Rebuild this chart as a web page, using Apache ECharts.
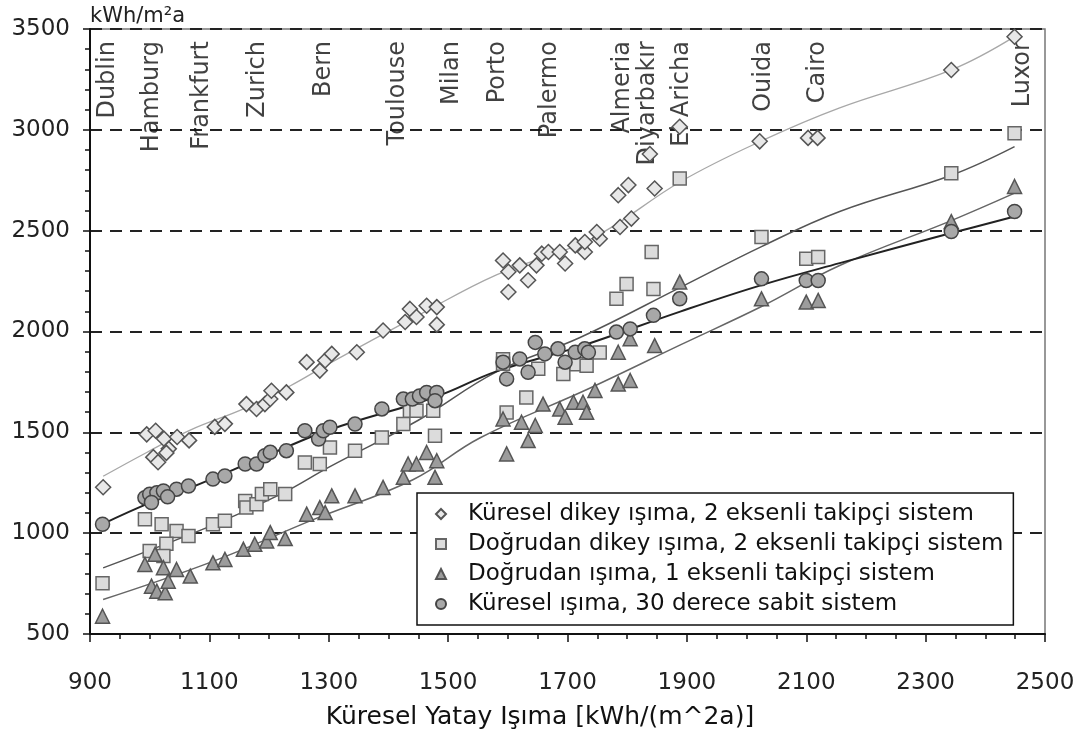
<!DOCTYPE html>
<html>
<head>
<meta charset="utf-8">
<script src="https://cdn.jsdelivr.net/npm/echarts@6/dist/echarts.min.js"></script>
<style>
  html, body { margin: 0; padding: 0; background: #fff; }
  #chart { width: 1090px; height: 735px; }
</style>
</head>
<body>
<div id="chart"></div>
<script>
// x = Küresel yatay ışıma, y = kWh/m²a
var kureselDikey = [
  [922,1228],[995,1490],[1010,1508],[1024,1468],[1046,1477],[1066,1460],[1032,1418],[1028,1398],[1006,1377],[1014,1352],
  [1109,1527],[1126,1542],[1162,1640],[1179,1616],[1193,1640],[1202,1665],[1204,1706],[1229,1698],
  [1263,1848],[1285,1806],[1294,1856],[1305,1889],[1347,1897],[1391,2005],[1428,2047],[1436,2112],[1447,2072],[1464,2128],[1481,2121],[1481,2034],
  [1592,2352],[1601,2296],[1601,2196],[1620,2328],[1634,2254],[1648,2328],[1657,2386],[1668,2394],[1687,2394],[1696,2337],[1713,2427],[1729,2394],
  [1729,2444],[1754,2460],[1749,2493],[1788,2518],[1807,2560],[1785,2676],[1802,2726],[1846,2709],[1838,2880],[1888,3015],
  [2022,2943],[2103,2960],[2119,2960],[2343,3297],[2449,3462]
];
var dogrudanDikey = [
  [921,752],[992,1069],[1020,1044],[1045,1011],[1065,986],[1028,948],[1000,912],[1023,887],[1106,1044],[1126,1061],
  [1160,1160],[1162,1127],[1179,1144],[1188,1194],[1202,1218],[1227,1194],[1260,1351],[1285,1343],[1302,1425],[1344,1409],
  [1389,1475],[1425,1541],[1436,1607],[1447,1607],[1475,1607],[1478,1483],
  [1592,1863],[1592,1840],[1598,1598],[1631,1673],[1651,1815],[1693,1789],[1715,1838],[1732,1830],[1754,1896],
  [1841,2394],[1799,2236],[1782,2162],[1844,2211],[1888,2759],[2025,2469],[2100,2361],[2120,2369],[2343,2785],[2449,2983]
];
var dogrudanTek = [
  [921,588],[992,845],[1003,737],[1012,712],[1026,704],[1009,895],[1023,829],[1031,762],[1045,820],[1068,787],
  [1106,853],[1126,870],[1157,920],[1176,945],[1196,961],[1202,1003],[1227,973],[1263,1094],[1285,1127],[1294,1102],
  [1305,1185],[1344,1185],[1391,1227],[1425,1277],[1433,1343],[1447,1343],[1464,1400],[1481,1359],[1478,1277],
  [1592,1566],[1623,1550],[1646,1534],[1634,1459],[1598,1393],[1659,1640],[1687,1616],[1696,1575],[1710,1649],[1726,1649],[1732,1600],
  [1746,1708],[1785,1740],[1805,1757],[1785,1897],[1805,1964],[1846,1930],[1888,2245],
  [2025,2162],[2100,2146],[2120,2154],[2343,2545],[2449,2719]
];
var kureselSabit = [
  [921,1044],[992,1176],[1000,1193],[1012,1200],[1023,1209],[1045,1218],[1065,1234],[1003,1152],[1030,1180],
  [1106,1268],[1126,1284],[1160,1343],[1179,1343],[1193,1384],[1202,1401],[1229,1409],[1260,1508],[1283,1467],[1291,1508],[1302,1525],
  [1344,1541],[1389,1616],[1425,1665],[1440,1665],[1452,1680],[1464,1698],[1481,1698],[1478,1657],
  [1592,1848],[1598,1765],[1620,1864],[1634,1798],[1646,1946],[1662,1889],[1684,1914],[1696,1848],[1713,1897],[1729,1914],[1735,1897],
  [1782,1997],[1805,2013],[1844,2080],[1888,2162],[2025,2261],[2100,2253],[2120,2253],[2343,2496],[2449,2595]
];

// egilim cizgileri (trend lines)
var trendDikey = [[922,1282],[995,1400],[1067,1510],[1160,1620],[1235,1730],[1302,1843],[1450,2080],[1581,2281],[1740,2460],[1890,2744],[2025,2945],[2156,3109],[2343,3297],[2449,3462]];
var trendDogrudanDikey = [[922,828],[1110,1045],[1218,1191],[1302,1330],[1450,1560],[1581,1800],[1721,1970],[1890,2220],[2025,2421],[2156,2595],[2343,2775],[2449,2917]];
var trendDogrudanTek = [[922,671],[1106,860],[1274,1067],[1441,1265],[1553,1472],[1738,1720],[1890,1935],[2025,2124],[2156,2327],[2343,2550],[2449,2686]];
var trendSabit = [[921,1045],[1000,1150],[1067,1224],[1200,1390],[1302,1513],[1481,1678],[1581,1802],[1721,1926],[1890,2100],[2025,2230],[2156,2339],[2343,2488],[2449,2570]];

var cityNames = ['Dublin','Hamburg','Frankfurt','Zurich','Bern','Toulouse','Milan','Porto','Palermo','Almeria','Diyarbakır','El Aricha','Ouida','Cairo','Luxor'];
var cityX = [930,1003,1087,1181,1291,1416,1506,1584,1671,1793,1835,1891,2028,2120,2463];
var cityLabelY = 3440;

var seriesNames = [
  'Küresel dikey ışıma, 2 eksenli takipçi sistem',
  'Doğrudan dikey ışıma, 2 eksenli takipçi sistem',
  'Doğrudan ışıma, 1 eksenli takipçi sistem',
  'Küresel ışıma, 30 derece sabit sistem'
];

var FONT = 'DejaVu Sans';
var chart = echarts.init(document.getElementById('chart'), null, {renderer: 'canvas'});

function trend(data, color, width) {
  return {
    type: 'line', data: data, smooth: 0.4, symbol: 'none', silent: true,
    lineStyle: {color: color, width: width}, z: 2
  };
}
function points(name, data, symbol, size, fill, border) {
  return {
    name: name, type: 'scatter', data: data, symbol: symbol, symbolSize: size,
    itemStyle: {color: fill, borderColor: border, borderWidth: 1.5, opacity: 1}, z: 3
  };
}
function plain(v) { return String(v); }

var option = {
  backgroundColor: '#fff',
  animation: false,
  grid: {left: 90, right: 45, top: 29, bottom: 100, show: true, borderColor: '#777', borderWidth: 1.5},
  legend: {
    data: seriesNames,
    orient: 'vertical',
    left: 417, top: 493,
    padding: [8, 10, 8, 18],
    itemGap: 4,
    itemWidth: 10, itemHeight: 10,
    backgroundColor: '#fff',
    borderColor: '#111', borderWidth: 1.5,
    textStyle: {fontFamily: FONT, fontSize: 23, lineHeight: 26, color: '#111', padding: [0, 0, 0, 17]}
  },
  xAxis: {
    type: 'value', min: 900, max: 2500, interval: 200,
    name: 'Küresel Yatay Işıma [kWh/(m^2a)]',
    nameLocation: 'middle', nameGap: 70,
    nameTextStyle: {fontFamily: FONT, fontSize: 25, lineHeight: 26, color: '#111', padding: [0, 55, 0, 0]},
    axisLine: {lineStyle: {color: '#111', width: 2}},
    axisTick: {length: 8, lineStyle: {color: '#111', width: 1.5}},
    minorTick: {show: true, splitNumber: 4, length: 5, lineStyle: {color: '#111', width: 1.5}},
    splitLine: {show: false},
    axisLabel: {fontFamily: FONT, fontSize: 23, lineHeight: 24, color: '#222', margin: 37, formatter: plain}
  },
  yAxis: {
    type: 'value', min: 500, max: 3500, interval: 500,
    name: 'kWh/m²a',
    nameLocation: 'end', nameGap: 2,
    nameTextStyle: {fontFamily: FONT, fontSize: 21, color: '#222', align: 'left', verticalAlign: 'bottom'},
    axisLine: {lineStyle: {color: '#111', width: 2}},
    axisTick: {length: 7, lineStyle: {color: '#111', width: 1.5}},
    minorTick: {show: true, splitNumber: 5, length: 5, lineStyle: {color: '#111', width: 1.5}},
    splitLine: {show: true, lineStyle: {color: '#222', width: 2, type: [12, 8]}},
    axisLabel: {fontFamily: FONT, fontSize: 23, color: '#222', margin: 20, formatter: plain}
  },
  series: [
    trend(trendDikey, '#a8a8a8', 1.3),
    trend(trendDogrudanDikey, '#555', 1.5),
    trend(trendDogrudanTek, '#666', 1.5),
    trend(trendSabit, '#222', 2),
    {
      type: 'scatter', silent: true, symbolSize: 0,
      data: cityX.map(function (x, i) { return {value: [x, cityLabelY], name: cityNames[i]}; }),
      label: {
        show: true, formatter: '{b}', position: 'inside', rotate: 90,
        align: 'right', verticalAlign: 'middle',
        fontFamily: FONT, fontSize: 24, color: '#111'
      },
      z: 1
    },
    points(seriesNames[0], kureselDikey, 'diamond', 15, '#e8e8e8', '#555'),
    points(seriesNames[1], dogrudanDikey, 'rect', 13, '#dcdcdc', '#666'),
    points(seriesNames[2], dogrudanTek, 'triangle', 14, '#9c9c9c', '#555'),
    points(seriesNames[3], kureselSabit, 'circle', 14, '#a8a8a8', '#444')
  ]
};
chart.setOption(option);
</script>
</body>
</html>
